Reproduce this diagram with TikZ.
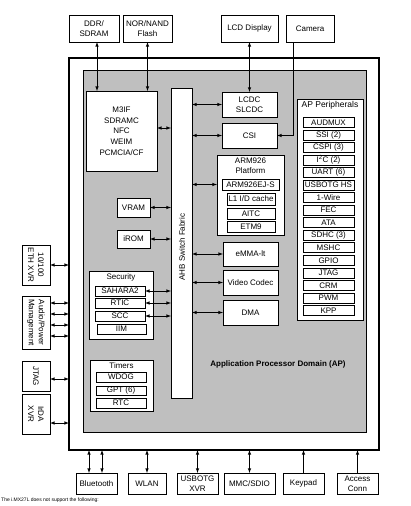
\documentclass[tikz,border=0pt]{standalone}
\usepackage{fontspec}
\setmainfont{Liberation Sans}

\begin{document}
\begin{tikzpicture}[x=1pt,y=-1pt,
	blk/.style={draw,fill=white,inner sep=0,outer sep=0,align=center,line width=0.7pt,font=\fontsize{8}{10}\selectfont},
	lnk/.style={<->,>=latex,line width=0.6pt},
	ttl/.style={align=center,inner sep=0,font=\fontsize{8}{10}\selectfont}]
	\useasboundingbox (0,0) rectangle (411,506);
	\node[draw,line width=2pt,inner sep=0,outer sep=0,minimum width=310,minimum height=392] (soc) at (224,254) {};
	\node[draw,fill=gray!50,line width=0.7pt,inner sep=0,outer sep=0,minimum width=283,minimum height=362] (ap) at (224.5,251) {};
	\node[font=\fontsize{8}{10}\selectfont\bfseries] (apl) at (278,364) {Application Processor Domain (AP)};
	% external memories and display
	\node[blk,minimum width=50,minimum height=27] (ddr) at (94,28.5) {DDR/\\SDRAM};
	\node[blk,minimum width=49,minimum height=27] (nor) at (147.5,28.5) {NOR/NAND\\Flash};
	\node[blk,minimum width=57,minimum height=27] (lcd) at (249.5,28.5) {LCD Display};
	\node[blk,minimum width=48,minimum height=27] (cam) at (310,28.5) {Camera};
	% bus and masters
	\node[blk,minimum width=71,minimum height=80,font=\fontsize{8}{10.75}\selectfont] (m3if) at (121.5,131) {M3IF\\SDRAMC\\NFC\\WEIM\\PCMCIA/CF};
	\node[blk,minimum width=21,minimum height=310] (ahb) at (181.5,243) {};
	\node[ttl,rotate=90] (ahbl) at (182,247) {AHB Switch Fabric};
	\node[blk,minimum width=55,minimum height=25] (lcdc) at (249.5,104.5) {LCDC\\SLCDC};
	\node[blk,minimum width=55,minimum height=25] (csi) at (249.5,135.5) {CSI};
	\node[blk,minimum width=67,minimum height=80] (arm) at (250.5,195) {};
	\node[ttl] (arml) at (250.5,166) {ARM926\\Platform};
	\node[blk,minimum width=57,minimum height=11] (core) at (250.5,184.5) {ARM926EJ-S};
	\node[blk,minimum width=48,minimum height=12] (cache) at (251,199) {L1 I/D cache};
	\node[blk,minimum width=48,minimum height=11] (aitc) at (251,213.5) {AITC};
	\node[blk,minimum width=48,minimum height=11] (etm) at (251,226.5) {ETM9};
	\node[blk,minimum width=55,minimum height=24] (emma) at (250.5,254) {eMMA-lt};
	\node[blk,minimum width=55,minimum height=25] (vcod) at (250.5,282.5) {Video Codec};
	\node[blk,minimum width=55,minimum height=25] (dma) at (250.5,312.5) {DMA};
	\node[blk,minimum width=33,minimum height=19] (vram) at (133.5,207.5) {VRAM};
	\node[blk,minimum width=33,minimum height=18] (irom) at (133.5,239) {iROM};
	% security and timers
	\node[blk,minimum width=64,minimum height=68] (sec) at (121,305) {};
	\node[ttl] (secl) at (121,277) {Security};
	\node[blk,minimum width=50,minimum height=10] (sah) at (120,291) {SAHARA2};
	\node[blk,minimum width=50,minimum height=10] (rtic) at (120,303) {RTIC};
	\node[blk,minimum width=50,minimum height=10] (scc) at (120,316) {SCC};
	\node[blk,minimum width=49,minimum height=10] (iim) at (121.5,329) {IIM};
	\node[blk,minimum width=63,minimum height=51] (tim) at (121.5,385.5) {};
	\node[ttl] (timl) at (121.5,366) {Timers};
	\node[blk,minimum width=50,minimum height=10] (wdog) at (121,377) {WDOG};
	\node[blk,minimum width=50,minimum height=9] (gpt) at (121,390.5) {GPT (6)};
	\node[blk,minimum width=50,minimum height=10] (rtc) at (121,403) {RTC};
	% peripherals
	\node[blk,minimum width=66,minimum height=221] (per) at (330,209.5) {};
	\node[ttl,font=\fontsize{8.5}{10}\selectfont] (perl) at (330,105) {AP Peripherals};
	\foreach \t [count=\i from 0] in {AUDMUX,SSI (2),CSPI (3),I\textsuperscript{2}C (2),UART (6),USBOTG HS,1-Wire,FEC,ATA,SDHC (3),MSHC,GPIO,JTAG,CRM,PWM,KPP}
		\node[blk,minimum width=51,minimum height=10] (p\i) at (328.5,122.5+12.53*\i) {\t};
	% left side
	\node[blk,minimum width=28,minimum height=40] (eth) at (36,265) {};
	\node[ttl,rotate=-90] at (eth) {10/100\\ETH XVR};
	\node[blk,minimum width=28,minimum height=53] (aud) at (36,322.5) {};
	\node[ttl,rotate=-90] at (aud) {Audio/Power\\Management};
	\node[blk,minimum width=28,minimum height=30] (jtag) at (36,376) {};
	\node[ttl,rotate=-90] at (jtag) {JTAG};
	\node[blk,minimum width=28,minimum height=40] (irda) at (36,414) {};
	\node[ttl,rotate=-90] at (irda) {IrDA\\XVR};
	% bottom
	\node[blk,minimum width=41,minimum height=21] (bt) at (96.5,483.5) {Bluetooth};
	\node[blk,minimum width=38,minimum height=21] (wlan) at (147,483.5) {WLAN};
	\node[blk,minimum width=41,minimum height=21] (usb) at (197.5,483.5) {USBOTG\\XVR};
	\node[blk,minimum width=51,minimum height=21] (mmc) at (249.5,483.5) {MMC/SDIO};
	\node[blk,minimum width=41,minimum height=21] (kp) at (303.5,483.5) {Keypad};
	\node[blk,minimum width=41,minimum height=21] (acc) at (357.5,483.5) {Access\\Conn};
	\node[anchor=west,inner sep=0,font=\fontsize{5}{6}\selectfont] (note) at (1,500) {The i.MX27L does not support the following:};
	% connections
	\draw[lnk] ([xshift=3]ddr.south) -- ([xshift=3]ddr.south |- m3if.north);
	\draw[lnk] (nor.south) -- (nor.south |- m3if.north);
	\draw[lnk] (lcd.south) -- (lcdc.north);
	\draw[->,>=latex,line width=0.6pt] ([xshift=-17]cam.south) |- (csi.east);
	\draw[lnk] ([yshift=3]m3if.east) -- ([yshift=3]m3if.east -| ahb.west);
	\draw[lnk] (ahb.east |- lcdc.west) -- (lcdc.west);
	\draw[lnk] (ahb.east |- csi.west) -- (csi.west);
	\draw[lnk] (ahb.east |- core.west) -- (core.west -| arm.west);
	\draw[lnk] (ahb.east |- emma.west) -- (emma.west);
	\draw[lnk] (ahb.east |- vcod.west) -- (vcod.west);
	\draw[lnk] (ahb.east |- dma.west) -- (dma.west);
	\draw[lnk] (vram.east) -- (vram.east -| ahb.west);
	\draw[lnk] (irom.east) -- (irom.east -| ahb.west);
	\draw[lnk] (sah.east) -- (sah.east -| ahb.west);
	\draw[lnk] (rtic.east) -- (rtic.east -| ahb.west);
	\draw[lnk] (scc.east) -- (scc.east -| ahb.west);
	\draw[lnk] (eth.east) -- (eth.east -| soc.west);
	\foreach \d in {19.5,8.5,-2.5,-13.5}
		\draw[lnk] ([yshift=\d]aud.east) -- ([yshift=\d]aud.east -| soc.west);
	\draw[lnk] ([yshift=-3]jtag.east) -- ([yshift=-3]jtag.east -| soc.west);
	\draw[lnk] ([yshift=-9]irda.east) -- ([yshift=-9]irda.east -| soc.west);
	\draw[lnk] ([xshift=-7.5]bt.north) -- ([xshift=-7.5]bt.north |- soc.south);
	\draw[lnk] ([xshift=5.5]bt.north) -- ([xshift=5.5]bt.north |- soc.south);
	\draw[lnk] (wlan.north) -- (wlan.north |- soc.south);
	\draw[lnk] (usb.north) -- (usb.north |- soc.south);
	\draw[lnk] (mmc.north) -- (mmc.north |- soc.south);
	\draw[->,>=latex,line width=0.6pt] (kp.north) -- (kp.north |- soc.south);
	\draw[->,>=latex,line width=0.6pt] (acc.north) -- (acc.north |- soc.south);
\end{tikzpicture}
\end{document}
